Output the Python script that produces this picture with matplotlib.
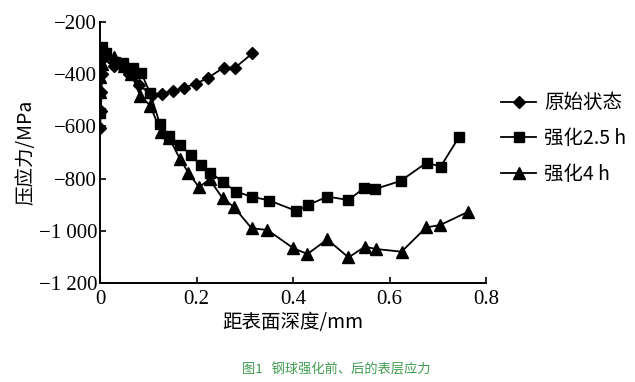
import matplotlib
matplotlib.use('Agg')
from matplotlib import pyplot as plt

# 原始状态 (diamonds)
orig_x = [0.0, 0.002, 0.003, 0.004, 0.005, 0.03, 0.06, 0.08, 0.107, 0.128, 0.151, 0.174, 0.199, 0.223, 0.256, 0.28, 0.316]
orig_y = [-605, -540, -470, -400, -340, -370, -400, -440, -480, -474, -465, -452, -436, -415, -375, -375, -320]

# 强化2.5 h (squares)
s25_x = [0.0, 0.004, 0.012, 0.031, 0.048, 0.069, 0.086, 0.104, 0.124, 0.144, 0.166, 0.188, 0.209, 0.229, 0.254,
         0.282, 0.314, 0.351, 0.407, 0.432, 0.471, 0.515, 0.548, 0.570, 0.623, 0.677, 0.706, 0.744]
s25_y = [-550, -295, -320, -352, -358, -378, -397, -473, -590, -637, -671, -710, -748, -777, -812,
         -850, -869, -884, -924, -901, -869, -882, -835, -840, -809, -739, -754, -641]

# 强化4 h (triangles)
s4_x = [0.0, 0.001, 0.004, 0.028, 0.05, 0.065, 0.083, 0.104, 0.126, 0.144, 0.166, 0.183, 0.205, 0.227, 0.254,
        0.277, 0.314, 0.347, 0.401, 0.43, 0.471, 0.515, 0.549, 0.573, 0.625, 0.676, 0.705, 0.763]
s4_y = [-470, -410, -360, -335, -370, -400, -482, -520, -620, -646, -726, -777, -833, -803, -875,
        -908, -990, -997, -1067, -1089, -1033, -1102, -1061, -1070, -1080, -987, -978, -927]

xticks = [0, 0.2, 0.4, 0.6, 0.8]
xlabels = ['0', '0.2', '0.4', '0.6', '0.8']
yticks = [-200, -400, -600, -800, -1000, -1200]
ylabels = ['−200', '−400', '−600', '−800', '−1 000', '−1 200']

serif = ['Liberation Serif', 'DejaVu Serif']
cjk = ['Noto Sans CJK SC', 'Liberation Serif', 'DejaVu Sans']

fig = plt.figure(figsize=(6.35, 3.82), dpi=100)
ax = fig.add_axes([100 / 635, 1 - 283 / 382, 386 / 635, 261 / 382])

ax.plot(orig_x, orig_y, color='black', lw=1.3, marker='D', ms=6.5, label='原始状态')
ax.plot(s25_x, s25_y, color='black', lw=1.3, marker='s', ms=6.5, label='强化2.5 h')
ax.plot(s4_x, s4_y, color='black', lw=1.3, marker='^', ms=8.5, label='强化4 h')

ax.set_xlim(0, 0.8)
ax.set_ylim(-1200, -200)
ax.set_xticks(xticks)
ax.set_xticklabels(xlabels, family=serif, fontsize=15)
ax.set_yticks(yticks)
ax.set_yticklabels(ylabels, family=serif, fontsize=15)
ax.tick_params(direction='in', length=4, width=1.2, pad=2)
ax.tick_params(axis='x', pad=5)
for side in ['top', 'right']:
    ax.spines[side].set_visible(False)
for side in ['left', 'bottom']:
    ax.spines[side].set_linewidth(1.4)

ax.set_xlabel('距表面深度/mm', family=cjk, fontsize=14, labelpad=2)
ax.set_ylabel('压应力/MPa', family=cjk, fontsize=14, labelpad=2)

leg = ax.legend(loc='upper left', bbox_to_anchor=(1.02, 0.76), frameon=False,
                prop={'family': cjk, 'size': 14}, handlelength=1.8, labelspacing=0.75,
                handletextpad=0.4, borderaxespad=0)

fig.text(0.53, 0.015, '图1   钢球强化前、后的表层应力', family=cjk, fontsize=9.5,
         color='#3f9a4f', ha='center', va='bottom')

fig.savefig('out.png', dpi=100)
